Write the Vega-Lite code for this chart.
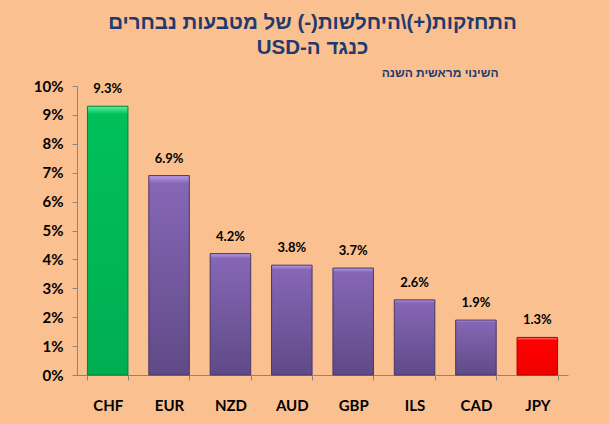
{
  "$schema": "https://vega.github.io/schema/vega-lite/v6.json",
  "width": 491,
  "height": 289,
  "autosize": {"type": "none"},
  "padding": {"left": 77, "top": 86, "right": 41, "bottom": 49},
  "background": "#FAC090",
  "config": {"view": {"stroke": null}},
  "title": {
    "text": ["\u202Bהתחזקות(+)\\היחלשות(-) של מטבעות נבחרים\u202C", "\u202Bכנגד ה-USD\u202C"],
    "font": "Liberation Sans",
    "fontSize": 20.5,
    "fontWeight": "bold",
    "color": "#1F3A6E",
    "lineHeight": 25,
    "anchor": "middle",
    "frame": "group",
    "dx": -10,
    "offset": 8
  },
  "data": {
    "values": [
      {"cur": "CHF", "v": 0.093},
      {"cur": "EUR", "v": 0.069},
      {"cur": "NZD", "v": 0.042},
      {"cur": "AUD", "v": 0.038},
      {"cur": "GBP", "v": 0.037},
      {"cur": "ILS", "v": 0.026},
      {"cur": "CAD", "v": 0.019},
      {"cur": "JPY", "v": 0.013}
    ]
  },
  "encoding": {
    "x": {
      "field": "cur", "type": "nominal",
      "scale": {"domain": ["CHF","EUR","NZD","AUD","GBP","ILS","CAD","JPY"], "paddingInner": 0.34, "paddingOuter": 0.17},
      "axis": {
        "title": null, "labelAngle": 0, "tickBand": "extent",
        "labelFont": "Lato", "labelFontSize": 15, "labelFontWeight": "bold", "labelColor": "#000000",
        "labelPadding": 18, "tickSize": 5, "tickColor": "#868686", "domainColor": "#868686"
      }
    },
    "y": {
      "field": "v", "type": "quantitative",
      "scale": {"domain": [0, 0.1], "nice": false},
      "axis": {
        "format": ".0%", "values": [0,0.01,0.02,0.03,0.04,0.05,0.06,0.07,0.08,0.09,0.1],
        "labelOverlap": false,
        "grid": false, "tickSize": 5, "tickColor": "#868686", "domainColor": "#868686",
        "labelFont": "Lato", "labelFontSize": 15, "labelFontWeight": "bold", "labelColor": "#000000", "labelPadding": 9,
        "title": "\u202Bהשינוי מראשית השנה\u202C", "titleAngle": 0, "titleX": 421, "titleY": -10,
        "titleAlign": "right", "titleBaseline": "alphabetic",
        "titleFont": "Liberation Sans", "titleFontSize": 12, "titleFontWeight": "bold", "titleColor": "#1F3A6E"
      }
    }
  },
  "layer": [
    {
      "transform": [{"filter": "datum.cur == 'CHF'"}],
      "mark": {"type": "bar", "stroke": "#00803A", "strokeWidth": 1,
        "fill": {"gradient": "linear", "x1": 0, "y1": 0, "x2": 0, "y2": 1,
          "stops": [{"offset": 0, "color": "#5EF0A0"}, {"offset": 0.03, "color": "#00C05A"}, {"offset": 1, "color": "#00AE52"}]}}
    },
    {
      "transform": [{"filter": "datum.cur != 'CHF' && datum.cur != 'JPY'"}],
      "mark": {"type": "bar", "stroke": "#46366A", "strokeWidth": 1,
        "fill": {"gradient": "linear", "x1": 0, "y1": 0, "x2": 0, "y2": 1,
          "stops": [{"offset": 0, "color": "#B79BE6"}, {"offset": 0.04, "color": "#8666B5"}, {"offset": 1, "color": "#5F4A87"}]}}
    },
    {
      "transform": [{"filter": "datum.cur == 'JPY'"}],
      "mark": {"type": "bar", "stroke": "#B00000", "strokeWidth": 1,
        "fill": {"gradient": "linear", "x1": 0, "y1": 0, "x2": 0, "y2": 1,
          "stops": [{"offset": 0, "color": "#FF8080"}, {"offset": 0.08, "color": "#FF0000"}, {"offset": 1, "color": "#F00000"}]}}
    },
    {
      "mark": {"type": "text", "dy": -10, "font": "Lato", "fontSize": 13, "fontWeight": "bold", "color": "#000000", "baseline": "bottom"},
      "encoding": {"text": {"field": "v", "type": "quantitative", "format": ".1%"}}
    }
  ]
}
